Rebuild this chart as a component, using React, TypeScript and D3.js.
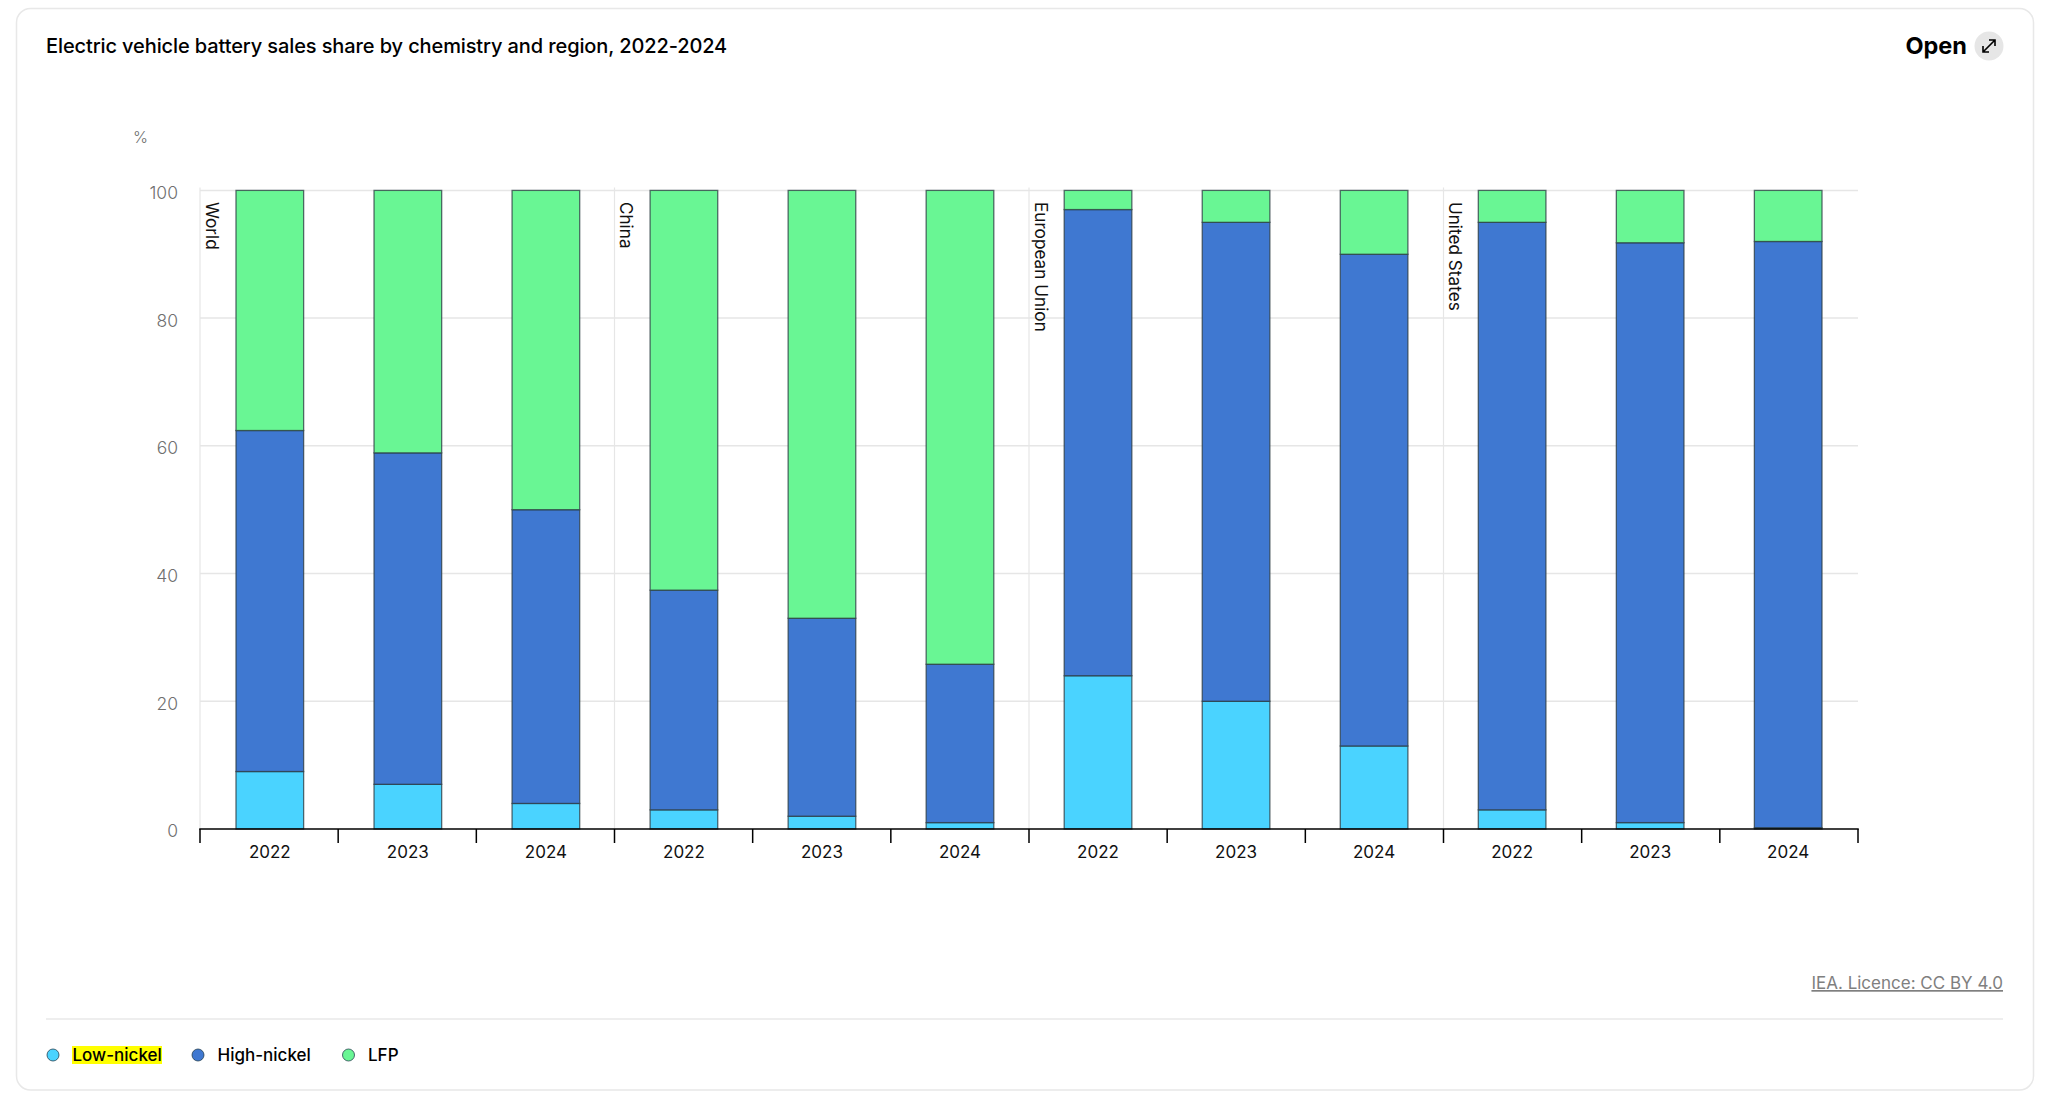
import React, { useRef, useEffect } from 'react';
import * as d3 from 'd3';

const regions = ['World', 'China', 'European Union', 'United States'];
const years = ['2022', '2023', '2024'];
const yTicks = [0, 20, 40, 60, 80, 100];

// one value per region/year pair, in reading order
const lowNickel = [9, 7, 4, 3, 2, 1, 24, 20, 13, 3, 1, 0.2];
const highNickel = [53.4, 51.9, 46, 34.4, 31, 24.8, 73, 75, 77, 92, 90.8, 91.8];
const lfp = [37.6, 41.1, 50, 62.6, 67, 74.2, 3, 5, 10, 5, 8.2, 8];

const seriesNames = ['Low-nickel', 'High-nickel', 'LFP'];
const seriesColors = ['#4ad3ff', '#3f78d1', '#69f694'];
const seriesValues = [lowNickel, highNickel, lfp];

const FONT = 'Inter, "Noto Sans", sans-serif';

const App: React.FC = () => {
  const svgRef = useRef<SVGSVGElement>(null);

  useEffect(() => {
    if (!svgRef.current) return;
    document.body.style.margin = '0';
    const svg = d3.select(svgRef.current);
    svg.selectAll('*').remove();

    const width = 2048;
    const height = 1101;
    const margin = { top: 190.4, right: 190, bottom: 272, left: 200 };

    // Card
    svg.append('rect')
      .attr('x', 16.5).attr('y', 8.5)
      .attr('width', 2017).attr('height', 1081.5)
      .attr('rx', 14)
      .attr('fill', '#fff')
      .attr('stroke', '#e8e8e8')
      .attr('stroke-width', 1.5);

    // Title and Open button
    svg.append('text')
      .attr('x', 46).attr('y', 53)
      .attr('font-size', 20).attr('font-weight', 500)
      .attr('letter-spacing', -0.11)
      .attr('fill', '#000')
      .text('Electric vehicle battery sales share by chemistry and region, 2022-2024');

    svg.append('text')
      .attr('x', 1967).attr('y', 54).attr('text-anchor', 'end')
      .attr('font-size', 23.5).attr('font-weight', 700)
      .attr('fill', '#000')
      .text('Open');
    svg.append('circle').attr('cx', 1989).attr('cy', 46).attr('r', 14.5).attr('fill', '#e6e6e6');
    svg.append('path')
      .attr('d', 'M1983 52 L1995 40 M1989 40 H1995 V46 M1983 46 V52 H1989')
      .attr('fill', 'none').attr('stroke', '#000').attr('stroke-width', 1.6);

    // Scales
    const keys = regions.flatMap(r => years.map(y => `${r}|${y}`));
    const x = d3.scaleBand()
      .domain(keys)
      .range([margin.left + 0.8, width - margin.right - 0.8])
      .paddingInner(0.51)
      .paddingOuter(0.255);
    const y = d3.scaleLinear()
      .domain([0, 100])
      .range([height - margin.bottom, margin.top]);
    // ticks and separators sit on the full axis width
    const edge = d3.scaleLinear()
      .domain([0, keys.length])
      .range([margin.left, width - margin.right]);

    // Grid
    svg.append('g')
      .selectAll('line')
      .data(yTicks.filter(t => t > 0))
      .enter()
      .append('line')
      .attr('x1', margin.left).attr('x2', width - margin.right)
      .attr('y1', d => y(d)).attr('y2', d => y(d))
      .attr('stroke', '#e6e6e6').attr('stroke-width', 1.5);

    // Region separators and labels
    const regionG = svg.append('g')
      .selectAll('g')
      .data(regions)
      .enter()
      .append('g');
    regionG.append('line')
      .attr('x1', (_, i) => edge(i * years.length))
      .attr('x2', (_, i) => edge(i * years.length))
      .attr('y1', margin.top - 3).attr('y2', y(0))
      .attr('stroke', '#e6e6e6').attr('stroke-width', 1.2);
    regionG.append('text')
      .attr('transform', (_, i) => `translate(${edge(i * years.length) + 5.5},${margin.top + 11.5}) rotate(90)`)
      .attr('font-size', 17.2)
      .attr('fill', '#111')
      .text(d => d);

    // Stacked bars
    const rows = keys.map((key, i) => {
      const row: Record<string, number | string> = { key };
      seriesNames.forEach((s, j) => { row[s] = seriesValues[j][i]; });
      return row;
    });
    const stacked = d3.stack<Record<string, number | string>>()
      .keys(seriesNames)(rows);
    const color = d3.scaleOrdinal<string>().domain(seriesNames).range(seriesColors);

    svg.append('g')
      .selectAll('g')
      .data(stacked)
      .enter()
      .append('g')
      .attr('fill', d => color(d.key))
      .selectAll('rect')
      .data(d => d)
      .enter()
      .append('rect')
      .attr('x', d => x(d.data.key as string) as number)
      .attr('y', d => y(d[1]))
      .attr('width', x.bandwidth())
      .attr('height', d => y(d[0]) - y(d[1]))
      .attr('stroke', '#2a3a40')
      .attr('stroke-opacity', 0.75)
      .attr('stroke-width', 1.3);

    // y axis labels
    const yAxis = d3.axisLeft(y).tickValues(yTicks).tickSize(0).tickPadding(22);
    const yG = svg.append('g').attr('transform', `translate(${margin.left},2.3)`).call(yAxis);
    yG.select('.domain').remove();
    yG.selectAll('text')
      .attr('font-family', FONT)
      .attr('font-size', 17.5)
      .attr('font-weight', 300)
      .attr('fill', '#6f6f6f');

    svg.append('text')
      .attr('x', 133).attr('y', 143)
      .attr('font-size', 16).attr('font-weight', 300).attr('fill', '#6f6f6f')
      .text('%');

    // x axis, labels centred on each band, ticks on the band edges
    const xAxis = d3.axisBottom(x)
      .tickFormat(d => (d as string).split('|')[1])
      .tickSize(0)
      .tickPadding(16.5);
    const xG = svg.append('g').attr('transform', `translate(0,${y(0)})`).call(xAxis);
    xG.select('.domain').remove();
    xG.selectAll('text')
      .attr('font-family', FONT)
      .attr('font-size', 17)
      .attr('fill', '#111');
    xG.append('line')
      .attr('x1', margin.left - 0.75).attr('x2', width - margin.right + 0.75)
      .attr('stroke', '#000').attr('stroke-width', 1.5);
    xG.selectAll('.edge')
      .data(d3.range(keys.length + 1))
      .enter()
      .append('line')
      .attr('class', 'edge')
      .attr('x1', d => edge(d)).attr('x2', d => edge(d))
      .attr('y1', 0).attr('y2', 14)
      .attr('stroke', '#000').attr('stroke-width', 1.5);

    // Licence
    svg.append('text')
      .attr('x', 2003).attr('y', 989).attr('text-anchor', 'end')
      .attr('font-size', 17).attr('fill', '#7f7f7f')
      .attr('text-decoration', 'underline')
      .text('IEA. Licence: CC BY 4.0');

    svg.append('line')
      .attr('x1', 46).attr('x2', 2003)
      .attr('y1', 1019).attr('y2', 1019)
      .attr('stroke', '#e8e8e8').attr('stroke-width', 1.5);

    // Legend
    const legendCircleX = [53, 198, 348.5];
    const legend = svg.append('g')
      .selectAll('g')
      .data(seriesNames)
      .enter()
      .append('g')
      .attr('transform', (_, i) => `translate(${legendCircleX[i]},1055)`);
    legend.filter((_, i) => i === 0)
      .append('rect')
      .attr('x', 19).attr('y', -9)
      .attr('width', 90).attr('height', 18)
      .attr('fill', '#ffff00');
    legend.append('circle')
      .attr('r', 6)
      .attr('fill', d => color(d))
      .attr('stroke', '#1f3a4a')
      .attr('stroke-opacity', 0.75);
    legend.append('text')
      .attr('x', 19.5).attr('y', 6)
      .attr('font-size', 17).attr('font-weight', 500)
      .attr('fill', '#000')
      .text(d => d);
  }, []);

  return (
    <svg
      ref={svgRef}
      width={2048}
      height={1101}
      viewBox="0 0 2048 1101"
      style={{ display: 'block', fontFamily: FONT, background: '#fff' }}
    />
  );
};

export default App;
